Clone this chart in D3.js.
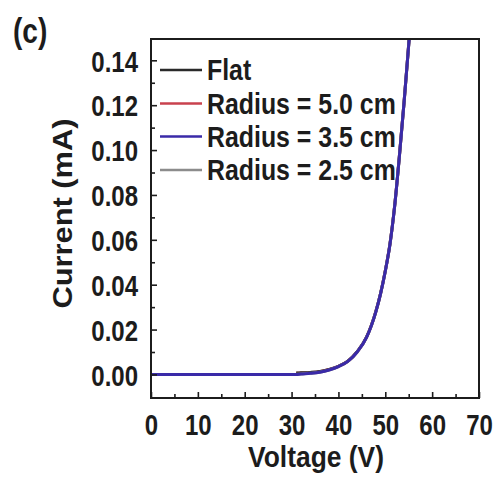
<!DOCTYPE html>
<html>
<head>
<meta charset="utf-8">
<script src="https://cdn.jsdelivr.net/npm/d3@7"></script>
<style>
  html, body { margin: 0; background: #fff; }
  svg text { font-family: "Liberation Sans", Arial, sans-serif; font-weight: bold; fill: #1c1c1c; }
</style>
</head>
<body>
<svg id="chart" width="501" height="486"></svg>
<script>
// I–V sweep of the device, flat and bent to three radii
const voltage      = [0, 5, 10, 15, 20, 25, 30, 31, 32, 34, 36, 38, 40, 42, 44, 46, 48, 49, 50, 51, 52, 53, 54, 55, 56];
const currentFlat  = [null, null, null, null, null, null, null, 0.0006, 0.0007, 0.0009, 0.0013, 0.0022, 0.0036, 0.0059, 0.0101, 0.0166, 0.0281, 0.0361, 0.0461, 0.0581, 0.0751, 0.0971, 0.1211, 0.1471, 0.1731];
const currentR50   = [null, null, null, null, null, null, null, 0.0005, 0.0006, 0.0008, 0.0012, 0.0022, 0.0036, 0.0059, 0.0101, 0.0166, 0.0282, 0.0362, 0.0462, 0.0582, 0.0752, 0.0972, 0.1212, 0.1472, 0.1732];
const currentR35   = [0, 0, 0, 0, 0, 0, 0, 0, 0.0002, 0.0005, 0.0010, 0.0020, 0.0035, 0.0058, 0.0100, 0.0165, 0.0280, 0.0360, 0.0460, 0.0580, 0.0750, 0.0970, 0.1210, 0.1470, 0.1730];
const currentR25   = [null, null, null, null, null, null, null, 0.0001, 0.0002, 0.0005, 0.0010, 0.0020, 0.0035, 0.0058, 0.0100, 0.0165, 0.0280, 0.0360, 0.0460, 0.0580, 0.0750, 0.0970, 0.1210, 0.1470, 0.1730];

const seriesNames  = ["Flat", "Radius = 5.0 cm", "Radius = 3.5 cm", "Radius = 2.5 cm"];
const seriesValues = [currentFlat, currentR50, currentR35, currentR25];
const seriesColors = ["#2a2a2a", "#c9424e", "#3a2aa8", "#8c8c8c"];
const drawOrder    = [1, 0, 3, 2];   // bent 3.5 cm curve ends up on top

const xTicks      = [0, 10, 20, 30, 40, 50, 60, 70];
const xMinorTicks = [5, 15, 25, 35, 45, 55, 65];
const yTicks      = [0, 0.02, 0.04, 0.06, 0.08, 0.10, 0.12, 0.14];
const yMinorTicks = [0.01, 0.03, 0.05, 0.07, 0.09, 0.11, 0.13];

const SX = 0.8;    // horizontal squeeze for the condensed tick lettering
const plot = { left: 151, top: 39, right: 479, bottom: 398 };

const svg = d3.select("#chart");

const x = d3.scaleLinear().domain([0, 70]).range([plot.left, plot.right]);
const y = d3.scaleLinear().domain([-0.0105, 0.1495]).range([plot.bottom, plot.top]);

function label(parent, px, py, txt, size, sx, anchor, rot) {
  const g = parent.append("g")
    .attr("transform", `translate(${px},${py}) rotate(${rot || 0}) scale(${sx},1)`);
  g.append("text").attr("text-anchor", anchor).style("font-size", size + "px").text(txt);
  return g;
}

svg.append("defs").append("clipPath").attr("id", "plotClip")
  .append("rect")
  .attr("x", plot.left).attr("y", plot.top)
  .attr("width", plot.right - plot.left).attr("height", plot.bottom - plot.top);

// curves
const line = d3.line()
  .defined(d => d[1] !== null)
  .x(d => x(d[0]))
  .y(d => y(d[1]))
  .curve(d3.curveMonotoneX);

const curves = svg.append("g").attr("clip-path", "url(#plotClip)");
drawOrder.forEach(i => {
  curves.append("path")
    .datum(voltage.map((v, k) => [v, seriesValues[i][k]]))
    .attr("fill", "none")
    .attr("stroke", seriesColors[i])
    .attr("stroke-width", 3)
    .attr("stroke-linejoin", "round")
    .attr("d", line);
});

// axes with inward ticks
function styleAxis(g) {
  g.select(".domain").remove();
  g.selectAll(".tick line").attr("stroke", "#1c1c1c").attr("stroke-width", 1.6);
}

const gx = svg.append("g").attr("transform", `translate(0,${plot.bottom})`)
  .call(d3.axisBottom(x).tickValues(xTicks).tickSizeInner(-6).tickSizeOuter(0).tickFormat(d3.format("d")));
styleAxis(gx);
gx.selectAll(".tick text")
  .attr("y", 37).attr("dy", null)
  .attr("transform", `scale(${SX},1)`)
  .style("font-size", "30px").style("font-family", null).attr("fill", null);

const gxm = svg.append("g").attr("transform", `translate(0,${plot.bottom})`)
  .call(d3.axisBottom(x).tickValues(xMinorTicks).tickSizeInner(-4).tickSizeOuter(0).tickFormat(() => ""));
styleAxis(gxm);

const gy = svg.append("g").attr("transform", `translate(${plot.left},0)`)
  .call(d3.axisLeft(y).tickValues(yTicks).tickSizeInner(-6).tickSizeOuter(0).tickFormat(d3.format(".2f")));
styleAxis(gy);
gy.selectAll(".tick text")
  .attr("x", -13 / SX).attr("dy", "0.36em")
  .attr("transform", `scale(${SX},1)`)
  .style("font-size", "30px").style("font-family", null).attr("fill", null);

const gym = svg.append("g").attr("transform", `translate(${plot.left},0)`)
  .call(d3.axisLeft(y).tickValues(yMinorTicks).tickSizeInner(-4).tickSizeOuter(0).tickFormat(() => ""));
styleAxis(gym);

// plot frame
svg.append("rect")
  .attr("x", plot.left).attr("y", plot.top)
  .attr("width", plot.right - plot.left).attr("height", plot.bottom - plot.top)
  .attr("fill", "none").attr("stroke", "#1c1c1c").attr("stroke-width", 2);

// legend
const legendRows = [70, 103.5, 136.5, 170];
const legend = svg.append("g");
seriesNames.forEach((name, i) => {
  legend.append("line")
    .attr("x1", 160).attr("x2", 202)
    .attr("y1", legendRows[i]).attr("y2", legendRows[i])
    .attr("stroke", seriesColors[i]).attr("stroke-width", 2.5);
  label(legend, 207, legendRows[i] + 10, name, 30, 0.83, "start");
});

// axis titles and panel tag
label(svg, 316, 467, "Voltage (V)", 30, 0.88, "middle");
label(svg, 72, 213.5, "Current (mA)", 28, 1.1, "middle", -90);
label(svg, 13, 42.5, "(c)", 36, 0.78, "start");
</script>
</body>
</html>
